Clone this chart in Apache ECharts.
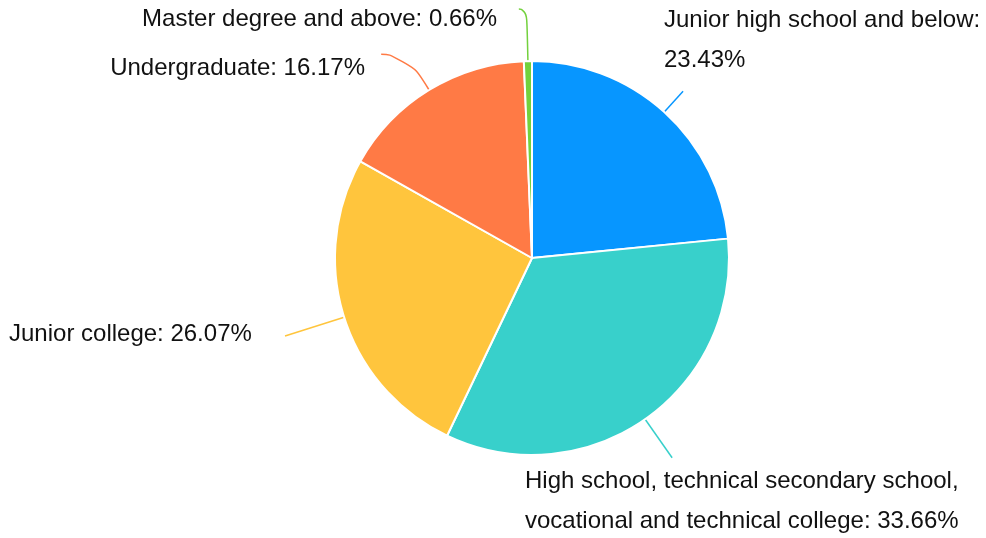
<!DOCTYPE html>
<html>
<head>
<meta charset="utf-8">
<script src="https://cdn.jsdelivr.net/npm/echarts@6/dist/echarts.min.js"></script>
<style>
  html, body { margin: 0; padding: 0; background: #fff; }
  #chart { width: 986px; height: 538px; }
</style>
</head>
<body>
<div id="chart"></div>
<script>
// Education level distribution (percent of respondents)
const categories = [
  'Junior high school and below',
  'High school, technical secondary school,\nvocational and technical college',
  'Junior college',
  'Undergraduate',
  'Master degree and above'
];
const shares = [23.43, 33.66, 26.07, 16.17, 0.66];

const sliceColors = ['#0796ff', '#38d0cb', '#ffc53d', '#ff7a45', '#73d13d'];

// Where each label sits: [x, y, align]
const labelAnchors = [
  [664, 40, 'left'],
  [525, 501, 'left'],
  [9, 334, 'left'],
  [365, 68, 'right'],
  [497, 19, 'right']
];
// Guide line segment lengths: [length, length2]
const guideLengths = [
  [28, 0],
  [47, 0],
  [62, 0],
  [42, 26],
  [52, 8]
];

const chart = echarts.init(document.getElementById('chart'), null, { renderer: 'canvas' });

chart.setOption({
  animation: false,
  backgroundColor: '#ffffff',
  series: [{
    type: 'pie',
    center: [532, 258],
    radius: 197,
    startAngle: 90,
    clockwise: true,
    avoidLabelOverlap: false,
    itemStyle: { borderColor: '#ffffff', borderWidth: 2 },
    label: {
      show: true,
      fontSize: 24,
      fontFamily: 'Liberation Sans, Arial, sans-serif',
      color: '#111111',
      lineHeight: 40,
      formatter: function (p) {
        const v = p.value.toFixed(2) + '%';
        return p.dataIndex === 0 ? p.name + ':\n' + v : p.name + ': ' + v;
      }
    },
    labelLine: { show: true, smooth: 0.7, lineStyle: { width: 1.5 } },
    labelLayout: function (p) {
      const a = labelAnchors[p.dataIndex];
      return {
        x: a[0],
        y: a[1],
        align: a[2],
        verticalAlign: 'middle',
        labelLinePoints: p.labelLinePoints
      };
    },
    data: categories.map(function (name, i) {
      return {
        name: name,
        value: shares[i],
        itemStyle: { color: sliceColors[i] },
        labelLine: { length: guideLengths[i][0], length2: guideLengths[i][1] }
      };
    })
  }]
});
</script>
</body>
</html>
